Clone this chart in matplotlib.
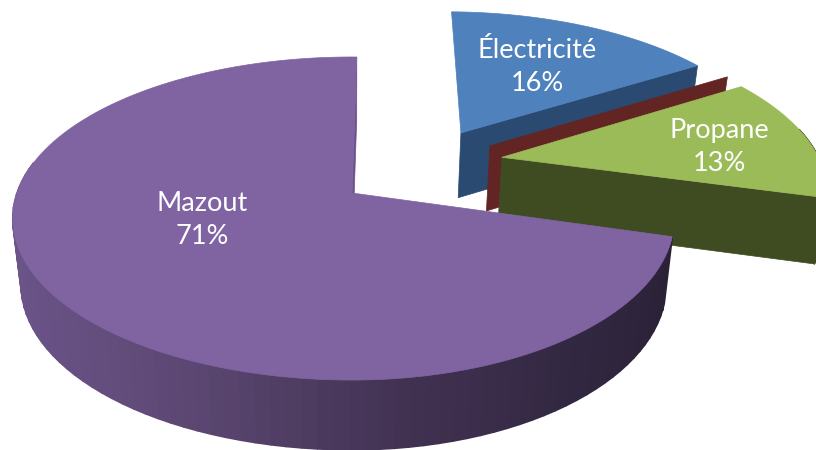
import numpy as np
import matplotlib
matplotlib.use("Agg")
import matplotlib.pyplot as plt
from matplotlib.collections import PolyCollection
from matplotlib.colors import LinearSegmentedColormap
from matplotlib.patches import Polygon

categories = ["Électricité", "Autre", "Propane", "Mazout"]
shares = [16, 0, 13, 71]
label_text = ["Électricité\n16%", None, "Propane\n13%", "Mazout\n71%"]

# style / layout
START = 1.0
X0, Y0, RX, RY, K = 352, 193, 335, 157.5, 0.158
H, SX, SY = 66, 0.025, -0.02
EXPLODE = {"Électricité": (0.346, 0.406), "Autre": (0.432, 0.314),
           "Propane": (0.464, 0.235), "Mazout": (0.0, 0.0)}
SQUEEZE = {"Mazout": 0.95, "Électricité": 0.98, "Autre": 0.98, "Propane": 0.98}
TOP = {"Électricité": "#4F81BD", "Autre": "#632523", "Propane": "#9BBB59", "Mazout": "#8064A2"}
WALL = {"Électricité": "#2A4A72", "Autre": "#632523", "Propane": "#3F4C22", "Mazout": "#6A5488"}
LABEL_POS = {"Électricité": (537, 67), "Propane": (719, 147), "Mazout": (202, 220)}
mazout_wall = LinearSegmentedColormap.from_list(
    "w", [(0, "#6A5488"), (0.28, "#5B4772"), (0.6, "#423252"), (0.9, "#30263F"), (1, "#2C2238")])


def project(u, v, z=0.0):
    u, v = np.asarray(u, float), np.asarray(v, float)
    d = 1 + K * v
    return np.column_stack([X0 + RX * u / d * (1 - SX * z),
                            Y0 - RY * v / d * (1 - SY * z) + H * z])


def disc(name, theta):
    t = np.radians(theta)
    u, v = np.sin(t), np.cos(t)
    u = np.where(u > 0, u * SQUEEZE[name], u)
    ox, oy = EXPLODE[name]
    return u + ox, v + oy


fig = plt.figure(figsize=(8.16, 4.5), dpi=100)
ax = fig.add_axes([0, 0, 1, 1])

spans = {}
a = START
for c, s in zip(categories, shares):
    spans[c] = (a, a + s * 3.6)
    a += s * 3.6

for zo, name in enumerate(categories):
    a0, a1 = spans[name]
    ox, oy = EXPLODE[name]
    # cut face at the end angle of the slice
    cu, cv = disc(name, a1)
    face = np.vstack([project([ox, float(cu)], [oy, float(cv)]),
                      project([float(cu), ox], [float(cv), oy], 1.0)])
    ax.add_patch(Polygon(face, closed=True, fc=WALL[name], ec=WALL[name], lw=0.5, zorder=zo * 3))
    if a1 == a0:
        continue
    th = np.linspace(a0, a1, 300)
    u, v = disc(name, th)
    # outer wall: only the part of the rim facing the viewer
    front = np.linspace(a0, a1, 110)
    front = front[np.cos(np.radians(front)) < 0.2]
    if len(front) > 1 and name != "Électricité":
        fu, fv = disc(name, front)
        pt, pb = project(fu, fv), project(fu, fv, 1.0)
        quads = [np.array([pt[i], pt[i + 1], pb[i + 1], pb[i]]) for i in range(len(front) - 1)]
        if name == "Mazout":
            cols = mazout_wall(np.clip((pt[:-1, 0] - 15) / 655, 0, 1))
        else:
            cols = [WALL[name]] * len(quads)
        ax.add_collection(PolyCollection(quads, facecolors=cols, edgecolors=cols, linewidths=1.2,
                                         zorder=zo * 3 + 1))
    # top surface
    top = np.vstack([project([ox], [oy]), project(u, v)])
    ax.add_patch(Polygon(top, closed=True, fc=TOP[name], ec=TOP[name], lw=0.5, zorder=zo * 3 + 2))

for name, txt in zip(categories, label_text):
    if txt:
        x, y = LABEL_POS[name]
        ax.text(x, y, txt, color="white", ha="center", va="center", fontsize=19.5,
                family="Lato", linespacing=1.4, zorder=50)

ax.set_xlim(0, 816)
ax.set_ylim(450, 0)
ax.axis("off")
fig.savefig("out.png", dpi=100, facecolor="white")
